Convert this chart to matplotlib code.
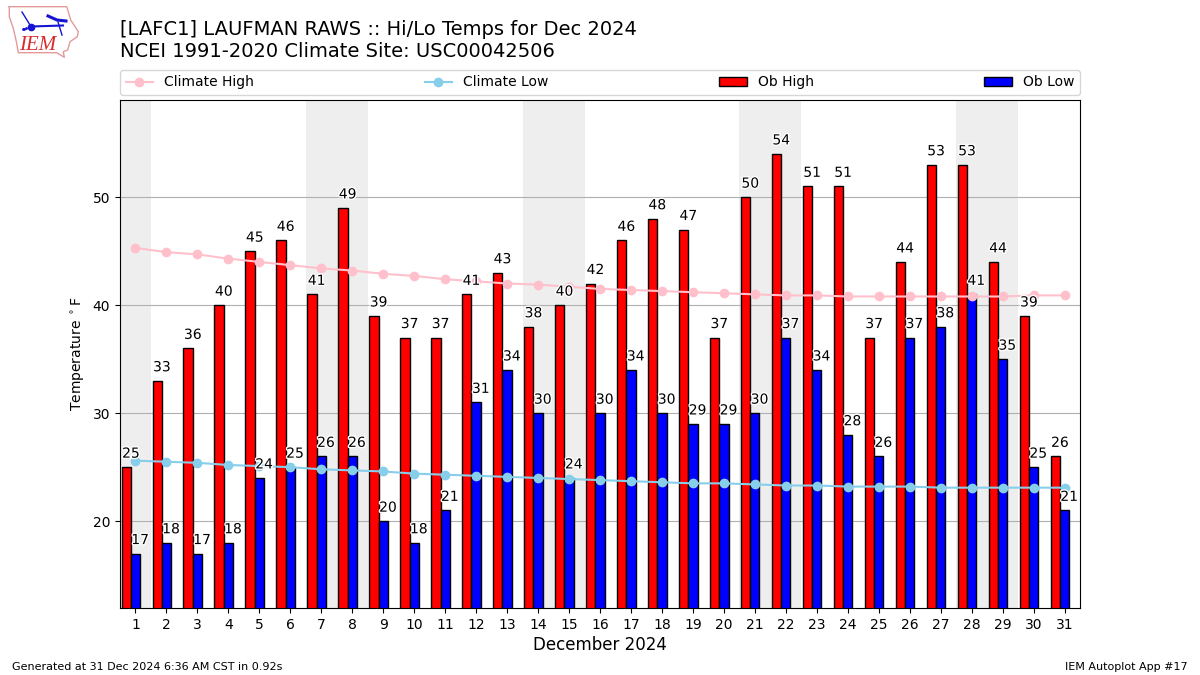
"""
Hi/Lo temperatures for Dec 2024 at LAFC1, with climate lines.
"""
import matplotlib
matplotlib.use('Agg')
import matplotlib.pyplot as plt
import matplotlib.patheffects as pe
import numpy as np

# Data.
days = list(range(1, 32))
ob_high = [25, 33, 36, 40, 45, 46, 41, 49, 39, 37, 37, 41, 43, 38, 40, 42,
           46, 48, 47, 37, 50, 54, 51, 51, 37, 44, 53, 53, 44, 39, 26]
ob_low = [17, 18, 17, 18, 24, 25, 26, 26, 20, 18, 21, 31, 34, 30, 24, 30,
          34, 30, 29, 29, 30, 37, 34, 28, 26, 37, 38, 41, 35, 25, 21]
climate_high = [45.3, 44.9, 44.7, 44.3, 44.0, 43.7, 43.4, 43.2, 42.9, 42.7, 42.4,
                42.2, 42.0, 41.9, 41.7, 41.5, 41.4, 41.3, 41.2, 41.1, 41.0,
                40.9, 40.9, 40.8, 40.8, 40.8, 40.8, 40.8, 40.8, 40.9, 40.9]
climate_low = [25.6, 25.5, 25.4, 25.2, 25.1, 25.0, 24.8, 24.7, 24.6, 24.4, 24.3,
               24.2, 24.1, 24.0, 23.9, 23.8, 23.7, 23.6, 23.5, 23.5, 23.4,
               23.3, 23.3, 23.2, 23.2, 23.2, 23.1, 23.1, 23.1, 23.1, 23.1]
weekends = [(0.5, 1.5), (6.5, 8.5), (13.5, 15.5), (20.5, 22.5), (27.5, 29.5)]

W, H = 1200, 675
fig = plt.figure(figsize=(12, 6.75), dpi=100)
ax = fig.add_axes([120/W, 1 - 608/H, 960/W, 508/H])

x = np.array(days)
for lo, hi in weekends:
    ax.axvspan(lo, hi, color='#eeeeee', lw=0, zorder=0)

ax.bar(x - 0.3, ob_high, width=0.3, color='r', edgecolor='k', label='Ob High', zorder=2)
ax.bar(x, ob_low, width=0.3, color='b', edgecolor='k', label='Ob Low', zorder=2)
ax.plot(x, climate_high, color='pink', marker='o', label='Climate High', zorder=3)
ax.plot(x, climate_low, color='skyblue', marker='o', label='Climate Low', zorder=3)

halo = [pe.withStroke(linewidth=2, foreground='white')]
for d, hi, lo in zip(x, ob_high, ob_low):
    ax.text(d - 0.15, hi + 0.6, str(hi), ha='center', va='bottom', fontsize=10,
            path_effects=halo, zorder=4)
    ax.text(d + 0.15, lo + 0.6, str(lo), ha='center', va='bottom', fontsize=10,
            path_effects=halo, zorder=4)

ax.set_xlim(0.5, 31.5)
ax.set_ylim(11.96, 58.99)
ax.set_xticks(days)
ax.set_yticks([20, 30, 40, 50])
ax.yaxis.grid(True, zorder=1)
ax.set_axisbelow(True)
ax.set_xlabel('December 2024', fontsize=12, labelpad=3)
ax.set_ylabel(r'Temperature $^\circ$F')

handles, labels = ax.get_legend_handles_labels()
order = [labels.index(n) for n in ('Climate High', 'Climate Low', 'Ob High', 'Ob Low')]
ax.legend([handles[i] for i in order], [labels[i] for i in order], ncol=4, mode='expand',
          loc='lower left', bbox_to_anchor=(0, 1.0098, 1, 0.05), borderaxespad=0)

# Titles and footer.
fig.text(120/W, 1 - 61/H, '[LAFC1] LAUFMAN RAWS :: Hi/Lo Temps for Dec 2024\n'
         'NCEI 1991-2020 Climate Site: USC00042506', fontsize=14, ha='left', va='bottom',
         linespacing=1.2)
fig.text(12/W, 1 - 672/H, 'Generated at 31 Dec 2024 6:36 AM CST in 0.92s', fontsize=8, va='bottom')
fig.text(1188/W, 1 - 672/H, 'IEM Autoplot App #17', fontsize=8, ha='right', va='bottom')

# Logo, drawn in pixel coordinates.
logo = fig.add_axes([0, 1 - 60/H, 85/W, 60/H])
logo.set_xlim(0, 85)
logo.set_ylim(60, 0)
logo.axis('off')
outline_x = [9.3, 66.7, 68.3, 70.7, 78.3, 77.3, 70, 67.7, 63.3, 64.3, 56.7, 18.3, 16.7, 13.3, 9.3, 9.3]
outline_y = [6.7, 6.7, 11.7, 20, 31.7, 36.7, 41.7, 50, 51.7, 57.3, 52.7, 52.7, 43.3, 28.3, 16.7, 6.7]
logo.plot(outline_x, outline_y, color='#e49a9a', lw=1)
blue = '#1414d2'
logo.plot([31, 63], [26.5, 25.5], color=blue, lw=1.5)
logo.plot([31], [26.5], 'o', color=blue, ms=4.5)
logo.plot([22, 30], [12, 25], color=blue, lw=1)
logo.plot([48, 57, 66], [16, 20, 21], color=blue, lw=2.2)
logo.plot([58, 62], [22, 35], color=blue, lw=1)
logo.plot([24, 26, 23], [29, 28, 29], '.', color=blue, ms=2)
logo.text(37.5, 45, 'IEM', color='#d82c2c', fontsize=15, family='Liberation Serif',
          style='italic', ha='center', va='center')

fig.savefig('out.png', dpi=100)
